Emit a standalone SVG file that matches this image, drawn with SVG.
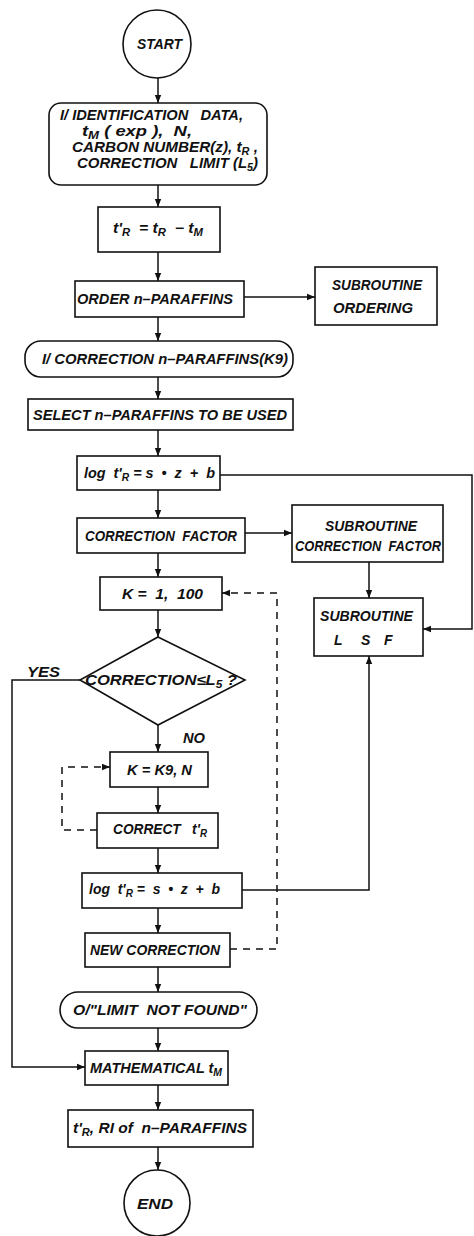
<svg xmlns="http://www.w3.org/2000/svg" width="474" height="1236" viewBox="0 0 474 1236">
<style>
.b{fill:#fff;stroke:#111;stroke-width:1.6}
.t{font-family:"Liberation Sans",Arial,sans-serif;font-style:italic;font-weight:bold;font-size:14px;fill:#111;white-space:pre}
.m{text-anchor:middle}
.c{stroke:#111;stroke-width:1.5;fill:none}
.d{stroke-dasharray:7 6}
.s{font-size:10px}
</style>
<defs>
<marker id="a" viewBox="0 0 10 10" refX="10" refY="5" markerWidth="8" markerHeight="8" markerUnits="userSpaceOnUse" orient="auto"><path d="M0,1 L10,5 L0,9 z" fill="#111"/></marker>
</defs>
<rect width="474" height="1236" fill="#fff"/>
<g id="connectors">
<line class="c" x1="158" y1="78" x2="158" y2="103" marker-end="url(#a)"/>
<line class="c" x1="158" y1="185" x2="158" y2="207" marker-end="url(#a)"/>
<line class="c" x1="158" y1="252" x2="158" y2="281" marker-end="url(#a)"/>
<line class="c" x1="244" y1="297" x2="315" y2="297" marker-end="url(#a)"/>
<line class="c" x1="158" y1="317" x2="158" y2="341" marker-end="url(#a)"/>
<line class="c" x1="158" y1="377" x2="158" y2="399" marker-end="url(#a)"/>
<line class="c" x1="158" y1="430" x2="158" y2="456" marker-end="url(#a)"/>
<polyline class="c" points="220,475 472,475 472,629 423,629" marker-end="url(#a)"/>
<line class="c" x1="158" y1="490" x2="158" y2="518" marker-end="url(#a)"/>
<line class="c" x1="245" y1="533" x2="292" y2="533" marker-end="url(#a)"/>
<line class="c" x1="369" y1="562" x2="369" y2="598" marker-end="url(#a)"/>
<line class="c" x1="158" y1="553" x2="158" y2="577" marker-end="url(#a)"/>
<line class="c" x1="158" y1="610" x2="158" y2="637" marker-end="url(#a)"/>
<polyline class="c" points="80,680 12,680 12,1067 85,1067" marker-end="url(#a)"/>
<line class="c" x1="158" y1="725" x2="158" y2="752" marker-end="url(#a)"/>
<polyline class="c d" points="97,830 62,830 62,767 110,767" marker-end="url(#a)"/>
<line class="c" x1="158" y1="787" x2="158" y2="813" marker-end="url(#a)"/>
<line class="c" x1="158" y1="848" x2="158" y2="873" marker-end="url(#a)"/>
<polyline class="c" points="242,890 369,890 369,656" marker-end="url(#a)"/>
<line class="c" x1="158" y1="908" x2="158" y2="933" marker-end="url(#a)"/>
<polyline class="c d" points="230,949 277,949 277,593 222,593" marker-end="url(#a)"/>
<line class="c" x1="158" y1="967" x2="158" y2="992" marker-end="url(#a)"/>
<line class="c" x1="158" y1="1028" x2="158" y2="1051" marker-end="url(#a)"/>
<line class="c" x1="158" y1="1085" x2="158" y2="1110" marker-end="url(#a)"/>
<line class="c" x1="158" y1="1147" x2="158" y2="1170" marker-end="url(#a)"/>
</g>
<g id="start">
<circle class="b" cx="157" cy="44" r="34"/>
<text class="t" x="137" y="49" textLength="45" lengthAdjust="spacingAndGlyphs">START</text>
</g>
<g id="input">
<rect class="b" x="49" y="103" width="218" height="82" rx="12"/>
<text class="t" x="60" y="120" textLength="183" lengthAdjust="spacingAndGlyphs">I/ IDENTIFICATION   DATA,</text>
<text class="t" x="82" y="136" textLength="110" lengthAdjust="spacingAndGlyphs">t<tspan class="s" dy="3">M</tspan><tspan dy="-3"> ( exp ),  N,</tspan></text>
<text class="t" x="72" y="152" textLength="186" lengthAdjust="spacingAndGlyphs">CARBON NUMBER(z), t<tspan class="s" dy="3">R</tspan><tspan dy="-3"> ,</tspan></text>
<text class="t" x="77" y="168" textLength="181" lengthAdjust="spacingAndGlyphs">CORRECTION   LIMIT (L<tspan class="s" dy="3">5</tspan><tspan dy="-3">)</tspan></text>
</g>
<g id="tr">
<rect class="b" x="98" y="207" width="122" height="45"/>
<text class="t" x="113" y="233" textLength="90" lengthAdjust="spacingAndGlyphs">t'<tspan class="s" dy="3">R</tspan><tspan dy="-3">  = t</tspan><tspan class="s" dy="3">R</tspan><tspan dy="-3">  − t</tspan><tspan class="s" dy="3">M</tspan></text>
</g>
<g id="order">
<rect class="b" x="75" y="281" width="169" height="36"/>
<text class="t" x="77" y="304" textLength="156" lengthAdjust="spacingAndGlyphs">ORDER n–PARAFFINS</text>
</g>
<g id="sub-ordering">
<rect class="b" x="315" y="267" width="122" height="58"/>
<text class="t" x="332" y="290" textLength="90" lengthAdjust="spacingAndGlyphs">SUBROUTINE</text>
<text class="t" x="333" y="313" textLength="80" lengthAdjust="spacingAndGlyphs">ORDERING</text>
</g>
<g id="input-k9">
<rect class="b" x="25" y="341" width="268" height="36" rx="16"/>
<text class="t" x="42" y="364" textLength="246" lengthAdjust="spacingAndGlyphs">I/ CORRECTION n–PARAFFINS(K9)</text>
</g>
<g id="select">
<rect class="b" x="28" y="399" width="265" height="31"/>
<text class="t" x="33" y="420" textLength="254" lengthAdjust="spacingAndGlyphs">SELECT n–PARAFFINS TO BE USED</text>
</g>
<g id="log1">
<rect class="b" x="77" y="456" width="143" height="34"/>
<text class="t" x="84" y="478" textLength="131" lengthAdjust="spacingAndGlyphs">log  t'<tspan class="s" dy="3">R</tspan><tspan dy="-3"> = s  •  z  +  b</tspan></text>
</g>
<g id="corr-factor">
<rect class="b" x="77" y="518" width="168" height="35"/>
<text class="t" x="85" y="541" textLength="152" lengthAdjust="spacingAndGlyphs">CORRECTION  FACTOR</text>
</g>
<g id="sub-cf">
<rect class="b" x="292" y="505" width="151" height="57"/>
<text class="t" x="325" y="531" textLength="92" lengthAdjust="spacingAndGlyphs">SUBROUTINE</text>
<text class="t" x="295" y="551" textLength="146" lengthAdjust="spacingAndGlyphs">CORRECTION  FACTOR</text>
</g>
<g id="sub-lsf">
<rect class="b" x="314" y="598" width="109" height="58"/>
<text class="t" x="320" y="621" textLength="93" lengthAdjust="spacingAndGlyphs">SUBROUTINE</text>
<text class="t" x="334" y="645">L</text>
<text class="t" x="361" y="645">S</text>
<text class="t" x="384" y="645">F</text>
</g>
<g id="k-loop">
<rect class="b" x="100" y="577" width="122" height="33"/>
<text class="t" x="122" y="599" textLength="81" lengthAdjust="spacingAndGlyphs">K =  1,  100</text>
</g>
<g id="decision">
<polygon class="b" points="158,637 245,680 158,725 80,680"/>
<text class="t" x="85" y="685" textLength="152" lengthAdjust="spacingAndGlyphs">CORRECTION≤L<tspan class="s" dy="3">5</tspan><tspan dy="-3"> ?</tspan></text>
<text class="t" x="27" y="677" textLength="33" lengthAdjust="spacingAndGlyphs">YES</text>
<text class="t" x="183" y="743" textLength="22" lengthAdjust="spacingAndGlyphs">NO</text>
</g>
<g id="k-k9">
<rect class="b" x="110" y="752" width="98" height="35"/>
<text class="t" x="127" y="775" textLength="65" lengthAdjust="spacingAndGlyphs">K = K9, N</text>
</g>
<g id="correct">
<rect class="b" x="97" y="813" width="121" height="35"/>
<text class="t" x="113" y="834" textLength="94" lengthAdjust="spacingAndGlyphs">CORRECT   t'<tspan class="s" dy="3">R</tspan></text>
</g>
<g id="log2">
<rect class="b" x="82" y="873" width="160" height="35"/>
<text class="t" x="89" y="894" textLength="131" lengthAdjust="spacingAndGlyphs">log  t'<tspan class="s" dy="3">R</tspan><tspan dy="-3"> =  s  •  z  +  b</tspan></text>
</g>
<g id="new-corr">
<rect class="b" x="85" y="933" width="145" height="34"/>
<text class="t" x="90" y="955" textLength="130" lengthAdjust="spacingAndGlyphs">NEW CORRECTION</text>
</g>
<g id="output-limit">
<rect class="b" x="60" y="992" width="197" height="36" rx="18"/>
<text class="t" x="73" y="1015" textLength="174" lengthAdjust="spacingAndGlyphs">O/"LIMIT  NOT FOUND"</text>
</g>
<g id="math-tm">
<rect class="b" x="85" y="1051" width="143" height="34"/>
<text class="t" x="90" y="1073" textLength="132" lengthAdjust="spacingAndGlyphs">MATHEMATICAL t<tspan class="s" dy="3">M</tspan></text>
</g>
<g id="result">
<rect class="b" x="68" y="1110" width="185" height="37"/>
<text class="t" x="73" y="1133" textLength="174" lengthAdjust="spacingAndGlyphs">t'<tspan class="s" dy="3">R</tspan><tspan dy="-3">, RI of  n–PARAFFINS</tspan></text>
</g>
<g id="end">
<circle class="b" cx="157" cy="1203" r="33"/>
<text class="t" x="137" y="1209" textLength="36" lengthAdjust="spacingAndGlyphs">END</text>
</g>
</svg>
